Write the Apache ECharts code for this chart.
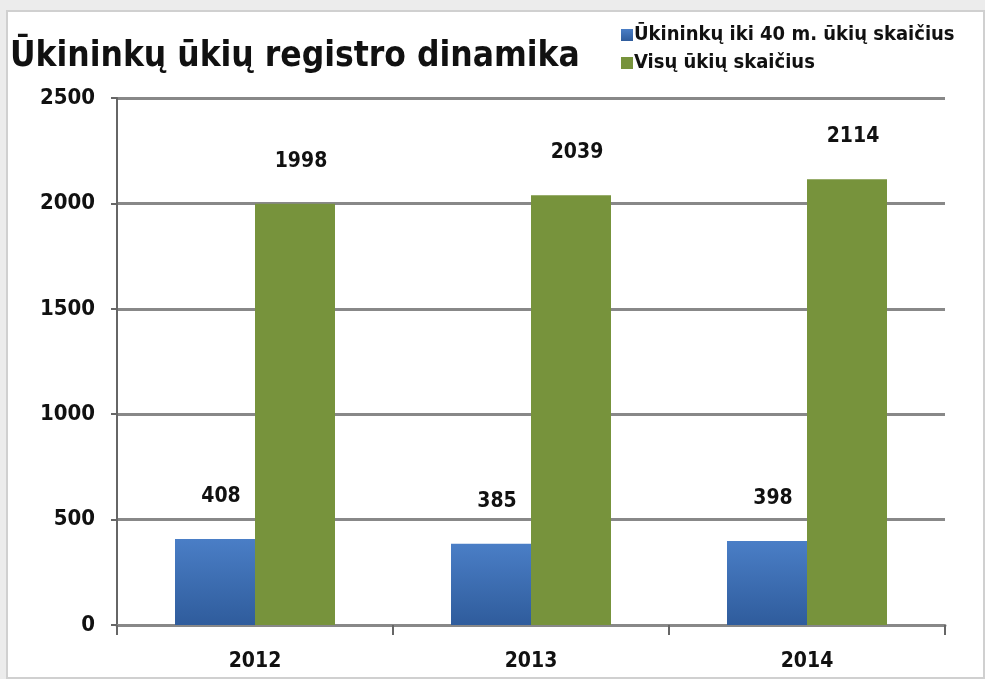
<!DOCTYPE html>
<html lang="lt">
<head>
  <meta charset="utf-8">
  <title>Ūkininkų ūkių registro dinamika</title>
  <script type="text/javascript" src="https://fastly.jsdelivr.net/npm/echarts@6/dist/echarts.min.js"></script>
  <style type="text/css">
    * { margin: 0; padding: 0; }
    html, body { width: 100%; height: 100%; overflow: hidden; background: #ececec; }
    #chart {
      position: absolute; left: 6px; top: 10px; right: 0; bottom: 0;
      background: #fff; border: 2px solid #d0d0d0;
    }
  </style>
</head>
<body>
  <div id="chart"></div>
  <script type="text/javascript">
    var years = ['2012', '2013', '2014'];
    var youngFarms = [408, 385, 398];
    var allFarms = [1998, 2039, 2114];
    var seriesNames = ['Ūkininkų iki 40 m. ūkių skaičius', 'Visų ūkių skaičius'];

    var font = '"DejaVu Sans Condensed", "Liberation Sans Narrow", sans-serif';
    var labelStyle = {
      show: true,
      position: 'top',
      distance: 32,
      offset: [6, 0],
      fontFamily: font,
      fontWeight: 'bold',
      fontSize: 21,
      color: '#111'
    };

    var chart = echarts.init(document.getElementById('chart'));
    chart.setOption({
      animation: false,
      title: {
        text: 'Ūkininkų ūkių registro dinamika',
        left: -3,
        top: 22,
        textStyle: { fontFamily: font, fontWeight: 'bold', fontSize: 35, color: '#111' }
      },
      legend: {
        orient: 'vertical',
        left: 608,
        top: 8,
        icon: 'rect',
        itemWidth: 12,
        itemHeight: 12,
        itemGap: 8,
        textStyle: { fontFamily: font, fontWeight: 'bold', fontSize: 20, color: '#111', padding: [0, 0, 0, -4] }
      },
      grid: { left: 109, right: 38, top: 86, bottom: 52 },
      xAxis: {
        type: 'category',
        data: years,
        axisLine: { lineStyle: { color: '#888', width: 3 } },
        axisTick: { show: true, length: 10, lineStyle: { color: '#666', width: 2 } },
        axisLabel: { fontFamily: font, fontWeight: 'bold', fontSize: 21, color: '#111', margin: 26 }
      },
      yAxis: {
        type: 'value',
        min: 0,
        max: 2500,
        interval: 500,
        axisLine: { show: true, lineStyle: { color: '#666', width: 2 } },
        axisTick: { show: true, length: 6, lineStyle: { color: '#666', width: 2 } },
        splitLine: { lineStyle: { color: '#888', width: 3 } },
        axisLabel: {
          fontFamily: font, fontWeight: 'bold', fontSize: 22, color: '#111', margin: 22,
          formatter: function (v) { return String(v); }
        }
      },
      series: [
        {
          name: seriesNames[0],
          type: 'bar',
          data: youngFarms,
          barWidth: 80,
          barGap: '0%',
          itemStyle: {
            color: new echarts.graphic.LinearGradient(0, 0, 0, 1, [
              { offset: 0, color: '#4a7ec6' },
              { offset: 1, color: '#2f5c9c' }
            ])
          },
          label: labelStyle
        },
        {
          name: seriesNames[1],
          type: 'bar',
          data: allFarms,
          barWidth: 80,
          itemStyle: { color: '#77933c' },
          label: labelStyle
        }
      ]
    });
  </script>
</body>
</html>
